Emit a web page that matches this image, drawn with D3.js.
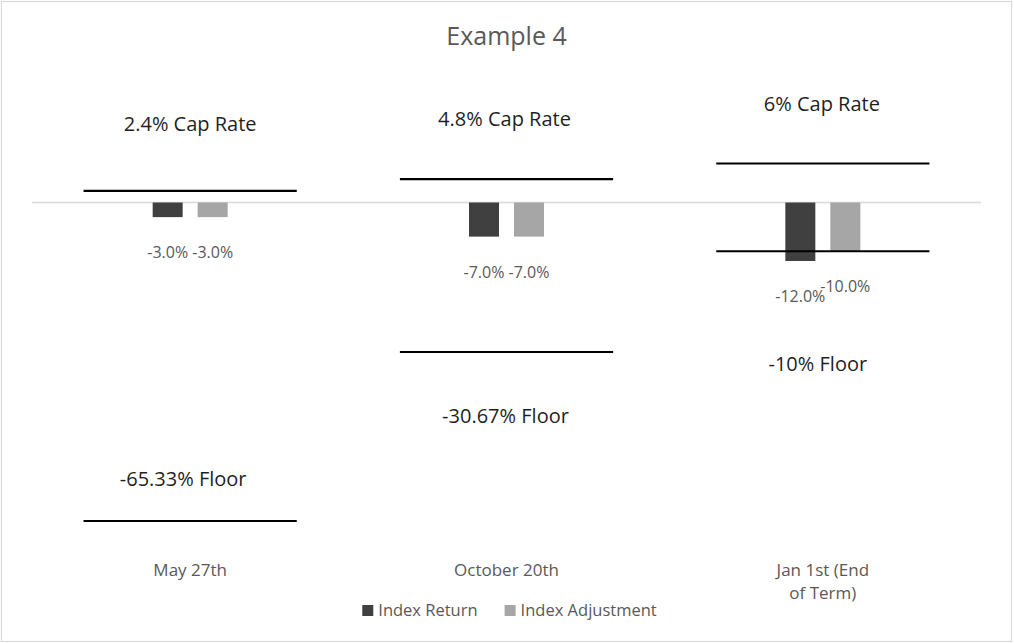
<!DOCTYPE html>
<html>
<head>
<meta charset="utf-8">
<script src="https://cdn.jsdelivr.net/npm/d3@7"></script>
<style>
  html, body { margin: 0; padding: 0; background: #fff; }
  svg { display: block; font-family: "Open Sans", sans-serif; }
</style>
</head>
<body>
<svg id="chart" width="1014" height="643"></svg>
<script>
// ---- data ----
const title = "Example 4";
const categories = ["May 27th", "October 20th", "Jan 1st (End of Term)"];
const seriesNames = ["Index Return", "Index Adjustment"];
const indexReturn = [-3.0, -7.0, -12.0];
const indexAdjustment = [-3.0, -7.0, -10.0];
const capLabels = ["2.4% Cap Rate", "4.8% Cap Rate", "6% Cap Rate"];
const capLineValues = [2.4, 4.8, 8.0];
const capLabelValues = [14.7, 15.75, 18.8];
const floorLabels = ["-65.33% Floor", "-30.67% Floor", "-10% Floor"];
const floorLineValues = [-65.33, -30.67, -10.0];
const floorLabelValues = [-58.1, -45.3, -34.5];

// ---- layout ----
const W = 1014, H = 643;
const plot = { left: 32, right: 981 };
const zeroY = 202.5, pxPerUnit = 4.875;
const colors = ["#404040", "#a6a6a6"];
const textGray = "#595959";
const capDx = [0, -2, -1];
const floorDx = [-7, -1, -5];

const svg = d3.select("#chart");

// border
svg.append("rect")
  .attr("x", 1.5).attr("y", 1.5)
  .attr("width", W - 4).attr("height", H - 3)
  .attr("fill", "#fff").attr("stroke", "#d9d9d9").attr("stroke-width", 1.2);

const x = d3.scaleBand().domain(categories).range([plot.left, plot.right]).padding(0);
const yMin = -70, yMax = 30;
const y = d3.scaleLinear().domain([yMin, yMax])
  .range([zeroY - yMin * pxPerUnit, zeroY - yMax * pxPerUnit]);
const xSub = d3.scaleBand().domain(seriesNames).range([0, 75]).paddingInner(1/3).paddingOuter(0);
const fmt = v => d3.format(".1f")(v).replace("\u2212", "-") + "%";

// title
svg.append("text")
  .attr("x", (plot.left + plot.right) / 2).attr("y", 45)
  .attr("text-anchor", "middle")
  .attr("font-size", 25).attr("fill", textGray)
  .text(title);

// zero axis line
svg.append("line")
  .attr("x1", plot.left).attr("x2", plot.right)
  .attr("y1", y(0)).attr("y2", y(0))
  .attr("stroke", "#d9d9d9").attr("stroke-width", 1.5);

// bars
const rows = categories.map((c, i) => ({ cat: c, values: [indexReturn[i], indexAdjustment[i]] }));
const groups = svg.append("g").selectAll("g").data(rows).join("g")
  .attr("transform", d => `translate(${x(d.cat) + x.bandwidth() / 2 - 37.5},0)`);

groups.selectAll("rect").data(d => d.values.map((v, j) => ({ v, s: seriesNames[j], j })))
  .join("rect")
  .attr("x", d => xSub(d.s))
  .attr("width", xSub.bandwidth())
  .attr("y", d => y(Math.max(0, d.v)))
  .attr("height", d => Math.abs(y(d.v) - y(0)))
  .attr("fill", d => colors[d.j]);

groups.selectAll("text.dl").data(d => d.values.map((v, j) => ({ v, s: seriesNames[j], j })))
  .join("text").attr("class", "dl")
  .attr("x", d => xSub(d.s) + xSub.bandwidth() / 2)
  .attr("y", d => y(d.v) + 41)
  .attr("text-anchor", "middle")
  .attr("font-size", 16).attr("fill", textGray)
  .text(d => fmt(d.v));

// cap & floor lines
const halfLen = x.bandwidth() * 0.337;
const lineG = svg.append("g");
categories.forEach((c, i) => {
  const cx = x(c) + x.bandwidth() / 2;
  [capLineValues[i], floorLineValues[i]].forEach(v => {
    lineG.append("line")
      .attr("x1", cx - halfLen).attr("x2", cx + halfLen)
      .attr("y1", y(v)).attr("y2", y(v))
      .attr("stroke", "#000").attr("stroke-width", 2.2);
  });
  lineG.append("text")
    .attr("x", cx + capDx[i]).attr("y", y(capLabelValues[i]))
    .attr("text-anchor", "middle").attr("font-size", 20).attr("fill", "#1f1f1f")
    .text(capLabels[i]);
  lineG.append("text")
    .attr("x", cx + floorDx[i]).attr("y", y(floorLabelValues[i]))
    .attr("text-anchor", "middle").attr("font-size", 20).attr("fill", "#1f1f1f")
    .text(floorLabels[i]);
});

// category labels (wrapped)
const catG = svg.append("g");
categories.forEach(c => {
  const cx = x(c) + x.bandwidth() / 2;
  const t = catG.append("text")
    .attr("x", cx).attr("y", 575.7)
    .attr("text-anchor", "middle").attr("font-size", 17).attr("fill", textGray);
  const words = c.split(" ");
  let line = [];
  let tspan = t.append("tspan").attr("x", cx).attr("dy", 0);
  words.forEach(w => {
    line.push(w);
    tspan.text(line.join(" "));
    if (tspan.node().getComputedTextLength() > 110 && line.length > 1) {
      line.pop();
      tspan.text(line.join(" "));
      line = [w];
      tspan = t.append("tspan").attr("x", cx).attr("dy", 23.3).text(w);
    }
  });
});

// legend
const legG = svg.append("g");
let lx = 0;
seriesNames.forEach((s, i) => {
  const g = legG.append("g").attr("transform", `translate(${lx},0)`);
  g.append("rect").attr("x", 0).attr("y", 605).attr("width", 11).attr("height", 11).attr("fill", colors[i]);
  const t = g.append("text").attr("x", 16).attr("y", 616)
    .attr("font-size", 16.5).attr("fill", textGray).text(s);
  lx += 16 + t.node().getComputedTextLength() + 27;
});
const legW = lx - 27;
legG.attr("transform", `translate(${(362 + 657) / 2 - legW / 2},0)`);
</script>
</body>
</html>
